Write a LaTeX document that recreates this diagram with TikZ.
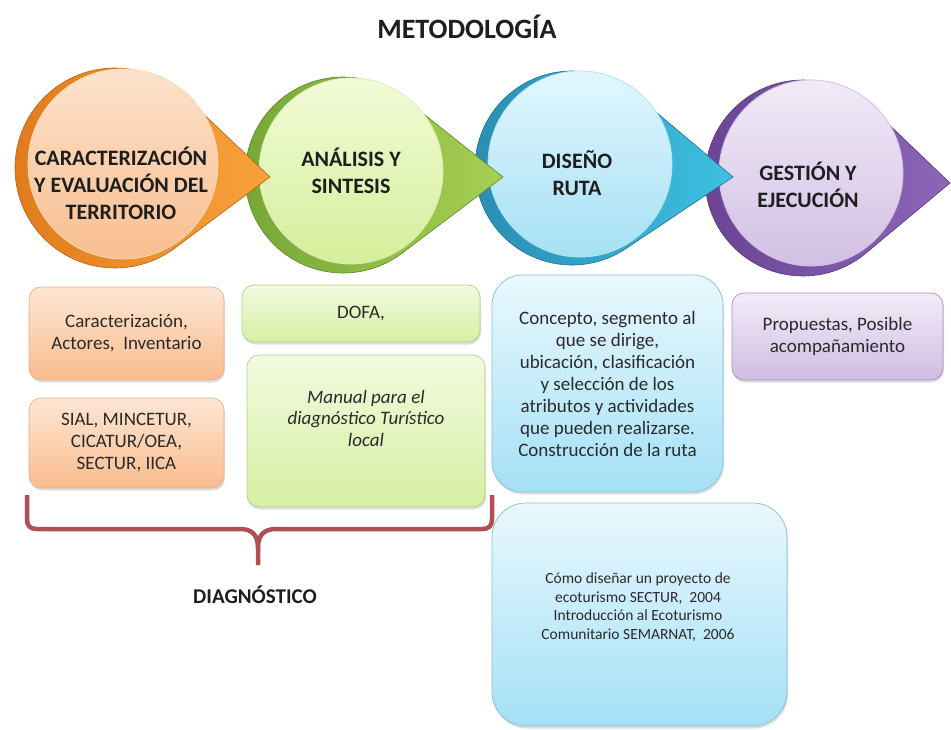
\documentclass[tikz,border=0pt]{standalone}
\usepackage{fontspec}
\setmainfont{Carlito}
\usetikzlibrary{calc,shadows}
\definecolor{txt}{HTML}{1E1E1E}
\definecolor{btxt}{HTML}{2A2A2A}
\definecolor{bracec}{RGB}{176,80,84}
% circles
\definecolor{orD}{HTML}{E07A1C}\definecolor{orP}{HTML}{F8A23A}
\definecolor{orT}{HTML}{FDE2CC}\definecolor{orB}{HTML}{F8BE90}
\definecolor{grD}{HTML}{76A536}\definecolor{grP}{HTML}{A6D052}
\definecolor{grT}{HTML}{F2FBD6}\definecolor{grB}{HTML}{D4EF9C}
\definecolor{blD}{HTML}{2A8BB2}\definecolor{blP}{HTML}{3EC0E2}
\definecolor{blT}{HTML}{E2F6FD}\definecolor{blB}{HTML}{A6E0F5}
\definecolor{puD}{HTML}{6A4294}\definecolor{puP}{HTML}{8E66B8}
\definecolor{puT}{HTML}{F1EAF7}\definecolor{puB}{HTML}{D2C0E4}
% boxes
\definecolor{obT}{HTML}{FDE6D4}\definecolor{obB}{HTML}{F9BC8D}\definecolor{obL}{HTML}{E6B089}
\definecolor{gbT}{HTML}{F2FADF}\definecolor{gbB}{HTML}{D6EFA2}\definecolor{gbL}{HTML}{B5D189}
\definecolor{bbT}{HTML}{E9F8FD}\definecolor{bbB}{HTML}{A4E0F6}\definecolor{bbL}{HTML}{86BFD3}
\definecolor{pbT}{HTML}{F3ECF8}\definecolor{pbB}{HTML}{D0BCE2}\definecolor{pbL}{HTML}{A591BC}
\newcommand\tdrop[7]{%
  \pgfmathsetmacro\tdDX{(#4-#1)/100}\pgfmathsetmacro\tdDY{(#5-#2)/100}%
  \pgfmathsetmacro\tdD{100*sqrt(\tdDX*\tdDX+\tdDY*\tdDY)}%
  \pgfmathsetmacro\tdTH{atan2(\tdDY,\tdDX)}%
  \pgfmathsetmacro\tdAL{acos(#3/\tdD)}%
  \pgfmathsetmacro\tdA{\tdTH+\tdAL}\pgfmathsetmacro\tdB{\tdTH-\tdAL+360}%
  \shadedraw[left color=#6,right color=#7,draw=#6!80!black,line width=0.6pt]
    (#4,#5) -- ($(#1,#2)+(\tdA:#3)$) arc[start angle=\tdA,end angle=\tdB,radius=#3] -- cycle;
}
\tikzset{
  ctext/.style={font=\fontsize{22}{27}\selectfont\bfseries,text=txt,align=center},
  btext/.style={font=\fontsize{19}{22}\selectfont,text=btxt,align=center},
  box/.style={rounded corners=12pt,line width=0.7pt,drop shadow={shadow xshift=1pt,shadow yshift=-2.5pt,opacity=0.25}},
  obox/.style={box,draw=obL,top color=obT,bottom color=obB},
  gbox/.style={box,draw=gbL,top color=gbT,bottom color=gbB},
  bbox/.style={box,draw=bbL,top color=bbT,bottom color=bbB,rounded corners=30pt},
  pbox/.style={box,draw=pbL,top color=pbT,bottom color=pbB},
  brace/.style={draw=bracec,line width=4.5pt}
}
\begin{document}
\begin{tikzpicture}[x=1pt,y=-1pt]
\useasboundingbox (0,0) rectangle (951,729);
\fill[white] (0,0) rectangle (951,729);
\node[font=\fontsize{28}{32}\selectfont\bfseries,text=txt] (title) at (467,27) {METODOLOGÍA};
% purple
\tdrop{803}{178}{98}{950}{183}{puD}{puP}
\shadedraw[top color=puT,bottom color=puB,draw=white!60!puP,line width=0.8pt] (811,173) ellipse[x radius=92,y radius=93];
\node[ctext] (gest) at (808,185) {GESTIÓN Y\\EJECUCIÓN};
% blue
\tdrop{572}{168}{97}{733}{177}{blD}{blP}
\shadedraw[top color=blT,bottom color=blB,draw=white!60!blP,line width=0.8pt] (580,164) ellipse[x radius=92,y radius=93];
\node[ctext] (dise) at (577,173) {DISEÑO\\RUTA};
% green
\tdrop{343}{175}{98}{503}{177}{grD}{grP}
\shadedraw[top color=grT,bottom color=grB,draw=white!60!grP,line width=0.8pt] (351,171) ellipse[x radius=92,y radius=93];
\node[ctext] (anal) at (351,171) {ANÁLISIS Y\\SINTESIS};
% orange
\tdrop{115}{168}{100}{270}{177}{orD}{orP}
\shadedraw[top color=orT,bottom color=orB,draw=white!60!orP,line width=0.8pt] (123,164) ellipse[x radius=95,y radius=95];
\node[ctext] (cara) at (121,183) {CARACTERIZACIÓN\\Y EVALUACIÓN DEL\\TERRITORIO};
% boxes
\node[obox,minimum width=195pt,minimum height=93pt,btext] (ob1) at (126.5,333.5) {Caracterización,\\Actores,\ \ Inventario};
\node[obox,minimum width=195pt,minimum height=90pt,btext] (ob2) at (126.5,443) {SIAL, MINCETUR,\\CICATUR/OEA,\\SECTUR, IICA};
\node[gbox,minimum width=238pt,minimum height=57pt,btext] (gb1) at (361,313.5) {DOFA,};
\node[gbox,minimum width=238pt,minimum height=152pt] (gb2) at (366,431) {};
\node[btext,font=\fontsize{19}{21.5}\selectfont\itshape] (gb2t) at (366,418) {Manual para el\\diagnóstico Turístico\\local};
\node[bbox,minimum width=231pt,minimum height=217pt,btext] (bb1) at (607.5,383.5) {Concepto, segmento al\\que se dirige,\\ubicación, clasificación\\y selección de los\\atributos y actividades\\que pueden realizarse.\\Construcción de la ruta};
\node[bbox,rounded corners=34pt,minimum width=295pt,minimum height=223pt] (bb2) at (639.5,614.5) {};
\node[btext,font=\fontsize{15.5}{18.4}\selectfont] (bb2t) at (638,607) {Cómo diseñar un proyecto de\\ecoturismo SECTUR,\ \ 2004\\Introducción al Ecoturismo\\Comunitario SEMARNAT,\ \ 2006};
\node[pbox,minimum width=211pt,minimum height=87pt,btext] (pb1) at (837.5,336.5) {Propuestas, Posible\\acompañamiento};
% brace
\coordinate (bl) at (27,495);
\coordinate (br) at (492,495);
\coordinate (bm) at (258,548);
\coordinate (bt) at (258,565);
\draw[brace] (bl) -- (27,519) .. controls (27,526) and (30,529) .. (37,529) -- (240,529) .. controls (252,529) and (258,535) .. (bm) -- (bt);
\draw[brace] (bm) .. controls (258,535) and (264,529) .. (276,529) -- (482,529) .. controls (489,529) and (492,526) .. (492,519) -- (br);
\node[font=\fontsize{21}{25}\selectfont\bfseries,text=txt] (diag) at (255,595) {DIAGNÓSTICO};
\end{tikzpicture}
\end{document}
